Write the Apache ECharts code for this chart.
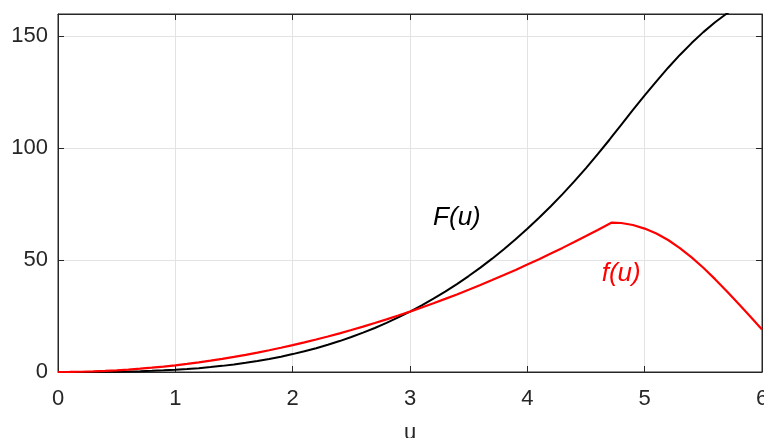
<!DOCTYPE html>
<html lang="en">
<head>
	<meta charset="UTF-8">
	<title>F(u) and f(u)</title>
	<script src="https://cdn.jsdelivr.net/npm/echarts@6/dist/echarts.min.js"></script>
	<style>
		html, body { margin: 0; padding: 0; background: #fff; }
	</style>
</head>
<body>
	<div id="main" style="width: 764px;height:438px;"></div>
	<script type="text/javascript">
	// u samples (4.72 is the kink of f)
	var uValues = [0, 0.1, 0.2, 0.3, 0.4, 0.5, 0.6, 0.7, 0.8, 0.9,
		1, 1.1, 1.2, 1.3, 1.4, 1.5, 1.6, 1.7, 1.8, 1.9,
		2, 2.1, 2.2, 2.3, 2.4, 2.5, 2.6, 2.7, 2.8, 2.9,
		3, 3.1, 3.2, 3.3, 3.4, 3.5, 3.6, 3.7, 3.8, 3.9,
		4, 4.1, 4.2, 4.3, 4.4, 4.5, 4.6, 4.7, 4.72, 4.8, 4.9,
		5, 5.1, 5.2, 5.3, 5.4, 5.5, 5.6, 5.7, 5.8, 5.9, 6];

	// f(u), red curve
	var fValues = [0, 0.03, 0.12, 0.27, 0.48, 0.75, 1.08, 1.47, 1.92, 2.43,
		3, 3.63, 4.32, 5.07, 5.88, 6.75, 7.68, 8.67, 9.72, 10.83,
		12, 13.23, 14.52, 15.87, 17.28, 18.75, 20.28, 21.87, 23.52, 25.23,
		27, 28.83, 30.72, 32.67, 34.68, 36.75, 38.88, 41.07, 43.32, 45.63,
		48, 50.43, 52.92, 55.47, 58.08, 60.75, 63.48, 66.27, 66.8, 66.6, 65.7,
		64.1, 61.9, 59.0, 55.4, 51.2, 46.6, 41.5, 36.1, 30.5, 24.8, 19.0];

	// F(u), black curve
	var FValues = [0, 0.001, 0.008, 0.027, 0.064, 0.125, 0.216, 0.343, 0.512, 0.729,
		1, 1.33, 1.73, 2.2, 2.74, 3.38, 4.1, 4.91, 5.83, 6.86,
		8, 9.26, 10.65, 12.17, 13.82, 15.63, 17.58, 19.68, 21.95, 24.39,
		27, 29.79, 32.77, 35.94, 39.3, 42.88, 46.66, 50.65, 54.87, 59.32,
		64, 68.92, 74.09, 79.51, 85.18, 91.13, 97.34, 103.8, 105.2, 110.5, 117.1,
		123.6, 129.9, 136.0, 141.7, 147.0, 151.9, 156.3, 160.2, 163.5, 166.3, 168.5];

	var xTicks = [0, 1, 2, 3, 4, 5, 6];
	var yTicks = [0, 50, 100, 150];

	function pairs(xs, ys) {
		return xs.map(function (x, i) { return [x, ys[i]]; });
	}

	var myChart = echarts.init(document.getElementById('main'));
	var textColor = '#262626';
	var fontFamily = '"Liberation Sans", Arial, sans-serif';

	// each axis gets its own tick object
	function ticks() {
		return { show: true, inside: true, length: 6, lineStyle: { color: textColor, width: 1 } };
	}
	var gridLine = { show: true, lineStyle: { color: '#e3e3e3', width: 1 } };

	var option = {
		animation: false,
		grid: {
			left: 58, right: 2, top: 14, bottom: 66,
			outerBoundsMode: 'none',
			show: true, borderColor: textColor, borderWidth: 1
		},
		xAxis: [{
			type: 'value', min: xTicks[0], max: xTicks[xTicks.length - 1], interval: 1,
			name: 'u', nameLocation: 'middle', nameGap: 50,
			nameTextStyle: { color: textColor, fontSize: 22, fontFamily: fontFamily },
			axisLine: { show: true, onZero: false, lineStyle: { color: textColor } },
			axisTick: ticks(),
			axisLabel: { color: textColor, fontSize: 22, fontFamily: fontFamily, margin: 16 },
			splitLine: gridLine
		}, {
			type: 'value', position: 'top', min: 0, max: 6, interval: 1,
			axisLine: { show: true, onZero: false, lineStyle: { color: textColor } },
			axisTick: ticks(), axisLabel: { show: false }, splitLine: { show: false }
		}],
		yAxis: [{
			type: 'value', position: 'left', min: 0, max: 160, interval: 50,
			axisLine: { show: true, onZero: false, lineStyle: { color: textColor } },
			axisTick: ticks(),
			axisLabel: { color: textColor, fontSize: 22, fontFamily: fontFamily, margin: 10, showMaxLabel: false },
			splitLine: gridLine
		}, {
			type: 'value', position: 'right', min: 0, max: 160, interval: 50,
			axisLine: { show: true, onZero: false, lineStyle: { color: textColor } },
			axisTick: ticks(), axisLabel: { show: false }, splitLine: { show: false }
		}],
		series: [{
			name: 'F(u)',
			type: 'line',
			data: pairs(uValues, FValues),
			showSymbol: false,
			lineStyle: { color: '#000', width: 2 },
			markPoint: {
				symbol: 'circle', symbolSize: 0,
				label: { show: true, formatter: 'F(u)', color: '#000', fontSize: 26, fontStyle: 'italic', fontFamily: fontFamily },
				data: [{ coord: [3.4, 69] }]
			}
		}, {
			name: 'f(u)',
			type: 'line',
			data: pairs(uValues, fValues),
			showSymbol: false,
			lineStyle: { color: '#ff0000', width: 2.2 },
			markPoint: {
				symbol: 'circle', symbolSize: 0,
				label: { show: true, formatter: 'f(u)', color: '#ff0000', fontSize: 26, fontStyle: 'italic', fontFamily: fontFamily },
				data: [{ coord: [4.8, 44] }]
			}
		}]
	};
	myChart.setOption(option);
	</script>
</body>
</html>
